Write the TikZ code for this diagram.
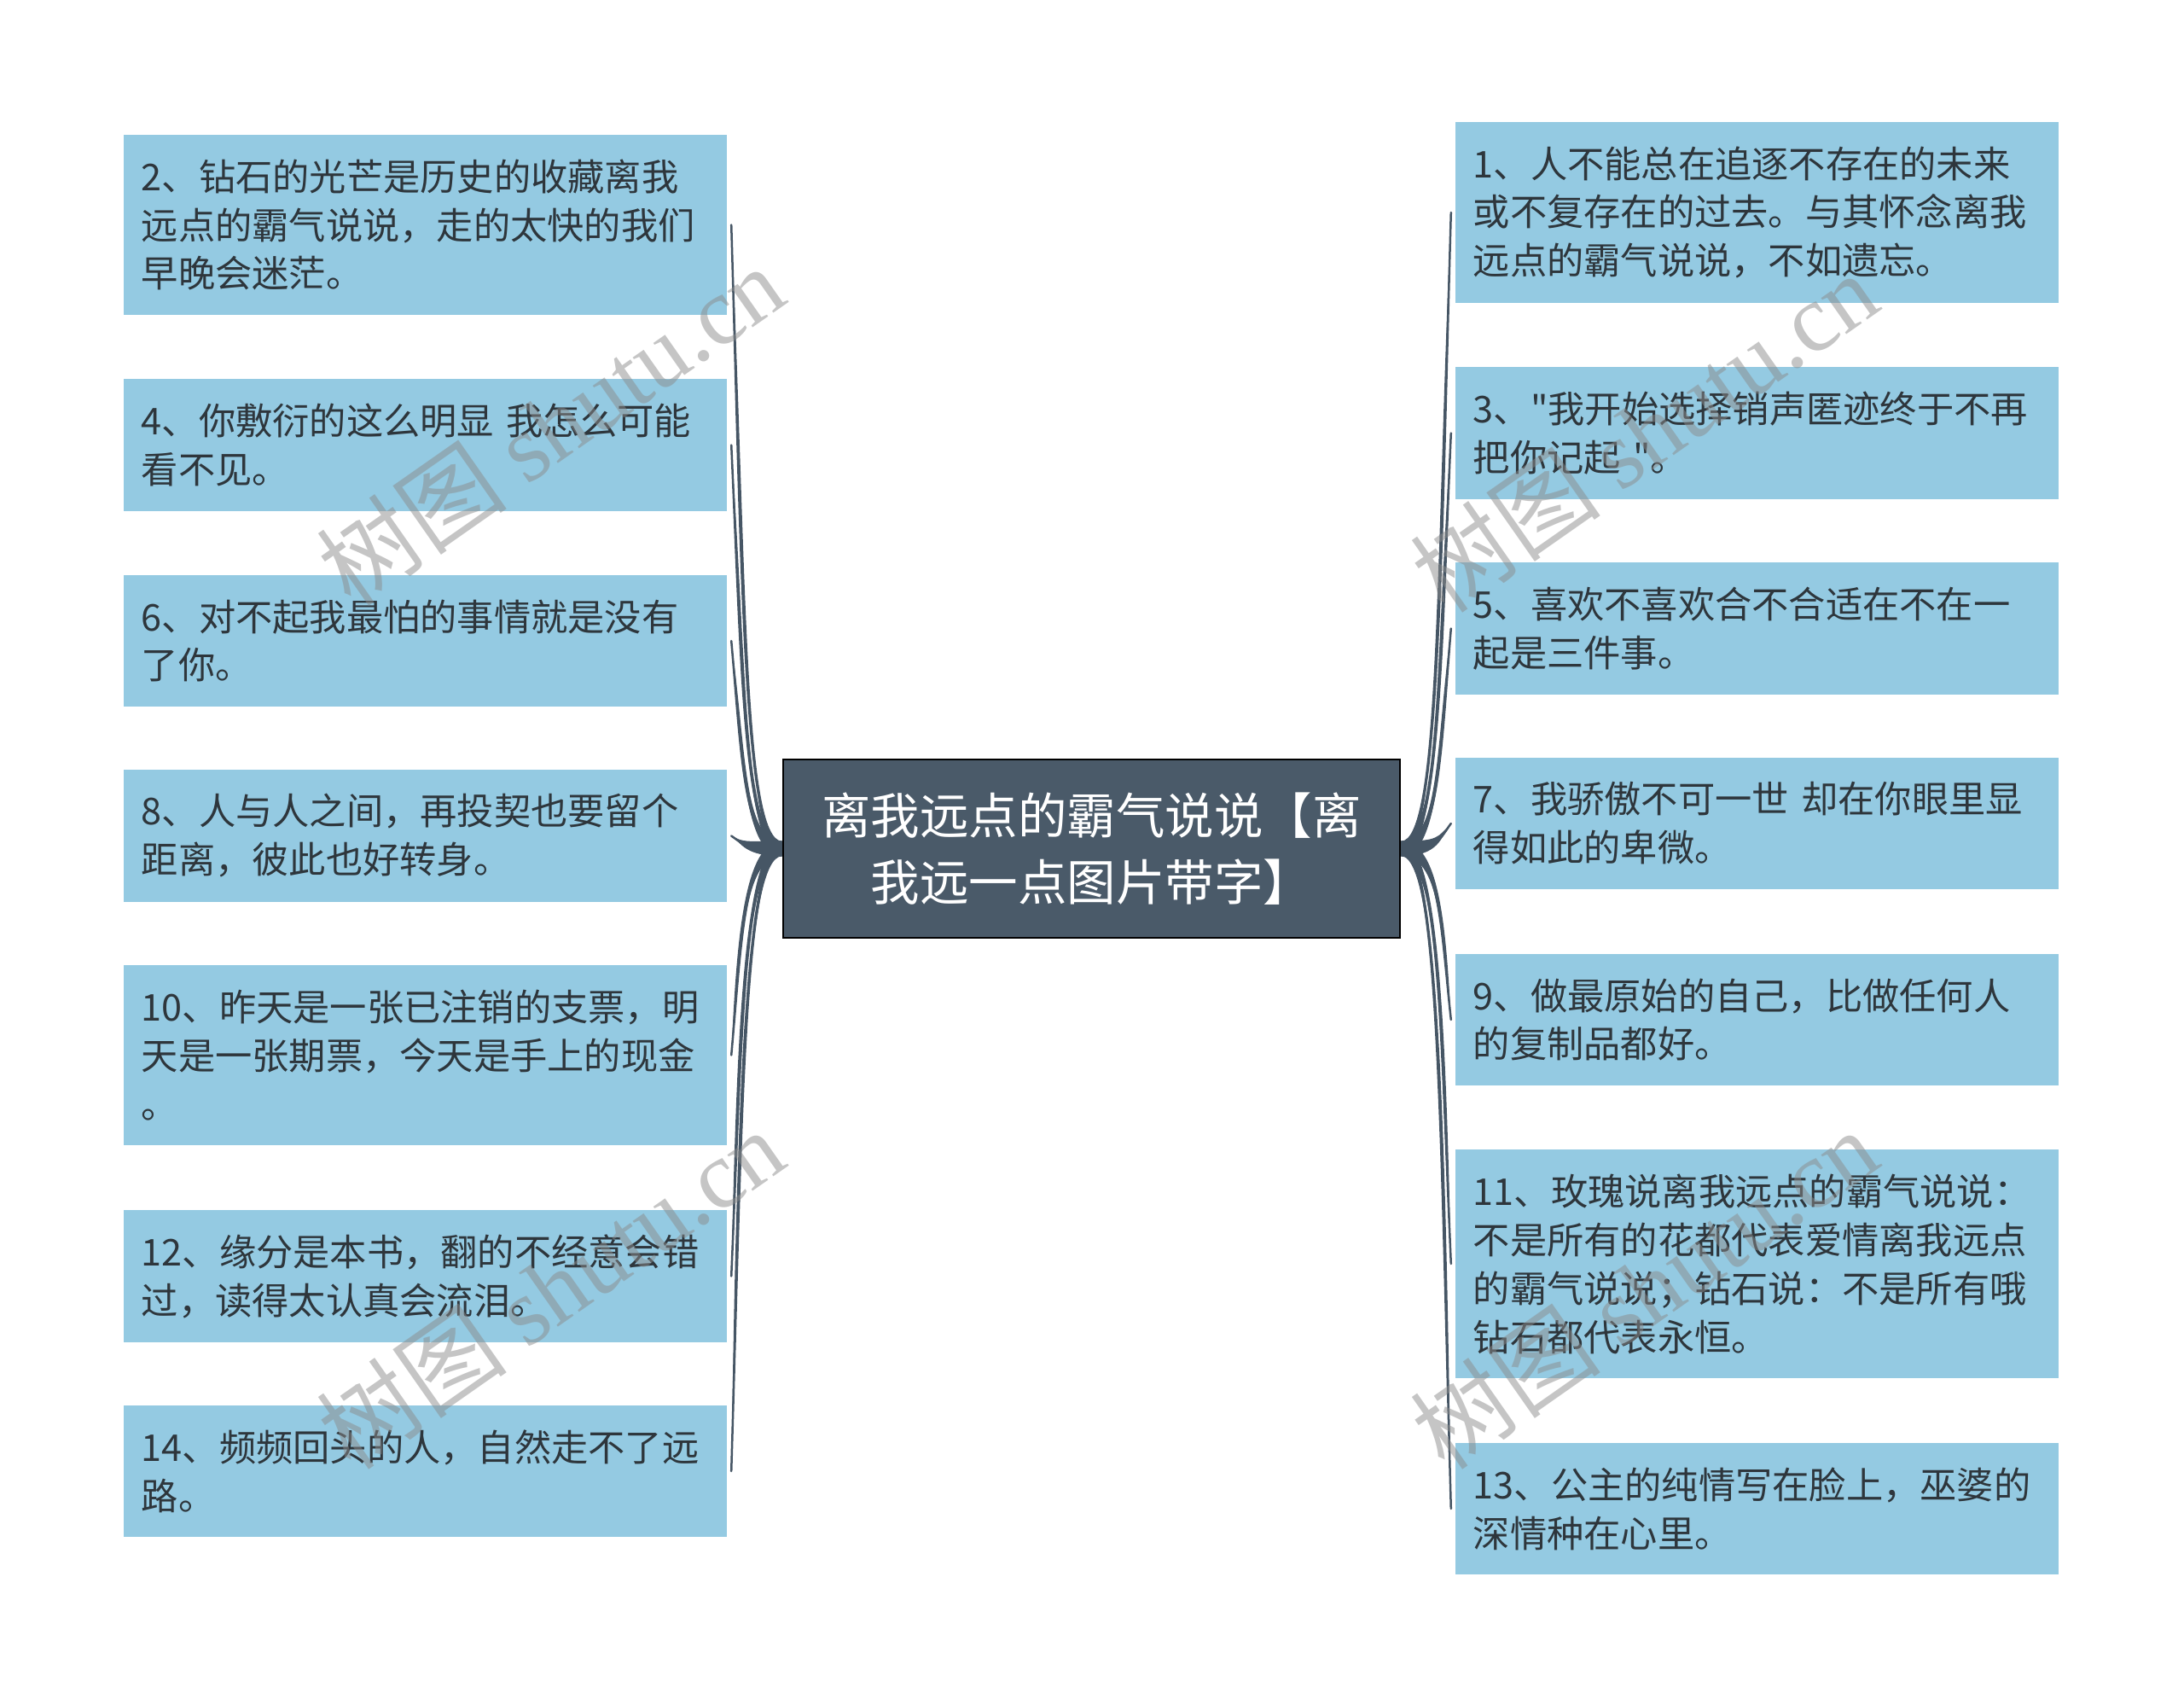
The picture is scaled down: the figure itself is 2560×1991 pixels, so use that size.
\documentclass[tikz,border=0pt]{standalone}
\usepackage{fontspec}
\setmainfont{Noto Sans CJK SC}
\newfontfamily\leaffont{Noto Sans CJK SC}
\newfontfamily\wmserif{Liberation Serif}
\usetikzlibrary{positioning, backgrounds}

\definecolor{leafblue}{RGB}{148,202,226}
\definecolor{hubslate}{RGB}{74,90,105}
\definecolor{branchslate}{RGB}{70,86,101}
\definecolor{inktext}{RGB}{46,54,60}

\begin{document}
\begin{tikzpicture}[x=0.01cm, y=-0.01cm,
      leaf/.style={fill=leafblue, text=inktext, inner xsep=0.21cm, inner ysep=0pt,
                   text width=6.65cm, align=left, outer sep=0.05cm,
                   font=\leaffont\fontsize{12.3pt}{16.2pt}\selectfont},
      leaftwo/.style={leaf, minimum height=1.54cm},
      leafthree/.style={leaf, minimum height=2.11cm},
      leaffour/.style={leaf, minimum height=2.68cm},
      hub/.style={fill=hubslate, draw=black, line width=0.6pt, text=white,
                  minimum width=7.23cm, minimum height=2.09cm, align=center,
                  inner sep=0pt, font=\fontsize{16.35pt}{22.2pt}\selectfont},
      branch/.style={draw=branchslate, line width=0.025cm, line cap=round},
      taper/.style={fill=branchslate},
      wm/.style={rotate=35, text=black!45, text opacity=0.5,
                 font=\fontsize{32pt}{32pt}\selectfont}]

    \useasboundingbox (0,0) rectangle (2560,1991);

    % --- centre topic ---
    \node[hub] (hub) at (1279.5,994.5) {离我远点的霸气说说【离\\我远一点图片带字】};

    % --- left column: even items ---
    \node[leafthree] (l2)  at (498.5,263.5)  {2、钻石的光芒是历史的收藏离我\\远点的霸气说说，走的太快的我们\\早晚会迷茫。};
    \node[leaftwo]   (l4)  at (498.5,521.5)  {4、你敷衍的这么明显 我怎么可能\\看不见。};
    \node[leaftwo]   (l6)  at (498.5,751)    {6、对不起我最怕的事情就是没有\\了你。};
    \node[leaftwo]   (l8)  at (498.5,979.5)  {8、人与人之间，再投契也要留个\\距离，彼此也好转身。};
    \node[leafthree] (l10) at (498.5,1236.5) {10、昨天是一张已注销的支票，明\\天是一张期票，今天是手上的现金\\。};
    \node[leaftwo]   (l12) at (498.5,1495.5) {12、缘分是本书，翻的不经意会错\\过，读得太认真会流泪。};
    \node[leaftwo]   (l14) at (498.5,1724)   {14、频频回头的人，自然走不了远\\路。};

    % --- right column: odd items ---
    \node[leafthree] (r1)  at (2059.5,249)   {1、人不能总在追逐不存在的未来\\或不复存在的过去。与其怀念离我\\远点的霸气说说，不如遗忘。};
    \node[leaftwo]   (r3)  at (2059.5,507.5) {3、"我开始选择销声匿迹终于不再\\把你记起 "。};
    \node[leaftwo]   (r5)  at (2059.5,736.5) {5、喜欢不喜欢合不合适在不在一\\起是三件事。};
    \node[leaftwo]   (r7)  at (2059.5,965)   {7、我骄傲不可一世 却在你眼里显\\得如此的卑微。};
    \node[leaftwo]   (r9)  at (2059.5,1195)  {9、做最原始的自己，比做任何人\\的复制品都好。};
    \node[leaffour]  (r11) at (2059.5,1481)  {11、玫瑰说离我远点的霸气说说：\\不是所有的花都代表爱情离我远点\\的霸气说说；钻石说：不是所有哦\\钻石都代表永恒。};
    \node[leaftwo]   (r13) at (2059.5,1768)  {13、公主的纯情写在脸上，巫婆的\\深情种在心里。};

    % --- branches: hub -> leaves, thick at the hub, thin at the leaf ---
    \begin{scope}[on background layer]
    \foreach \n/\d/\e in {l2/402/18, l4/260/18, l6/134/18, l8/8/16, l10/-133/6, l12/-276/6, l14/-401/6}{
      \fill[taper] ([yshift=-2.5pt]hub.west) .. controls +(-45,0) and +(12,\d) .. (\n.east)
            .. controls +(\e,\d) and +(-45,0) .. ([yshift=2.5pt]hub.west) -- cycle;
      \draw[branch] (hub.west) .. controls +(-45,0) and +(12,\d) .. (\n.east);
    }
    \foreach \n/\d/\e in {r1/410/-18, r3/268/-18, r5/142/-18, r7/16/-16, r9/-110/-6, r11/-268/-6, r13/-425/-6}{
      \fill[taper] ([yshift=-2.5pt]hub.east) .. controls +(45,0) and +(-12,\d) .. (\n.west)
            .. controls +(\e,\d) and +(45,0) .. ([yshift=2.5pt]hub.east) -- cycle;
      \draw[branch] (hub.east) .. controls +(45,0) and +(-12,\d) .. (\n.west);
    }
    \end{scope}

    % --- watermarks ---
    \node[wm] (wm1) at (645,498)   {树图 {\wmserif shutu.cn}};
    \node[wm] (wm2) at (1927,506)  {树图 {\wmserif shutu.cn}};
    \node[wm] (wm3) at (645,1510)  {树图 {\wmserif shutu.cn}};
    \node[wm] (wm4) at (1927,1510) {树图 {\wmserif shutu.cn}};

\end{tikzpicture}
\end{document}
